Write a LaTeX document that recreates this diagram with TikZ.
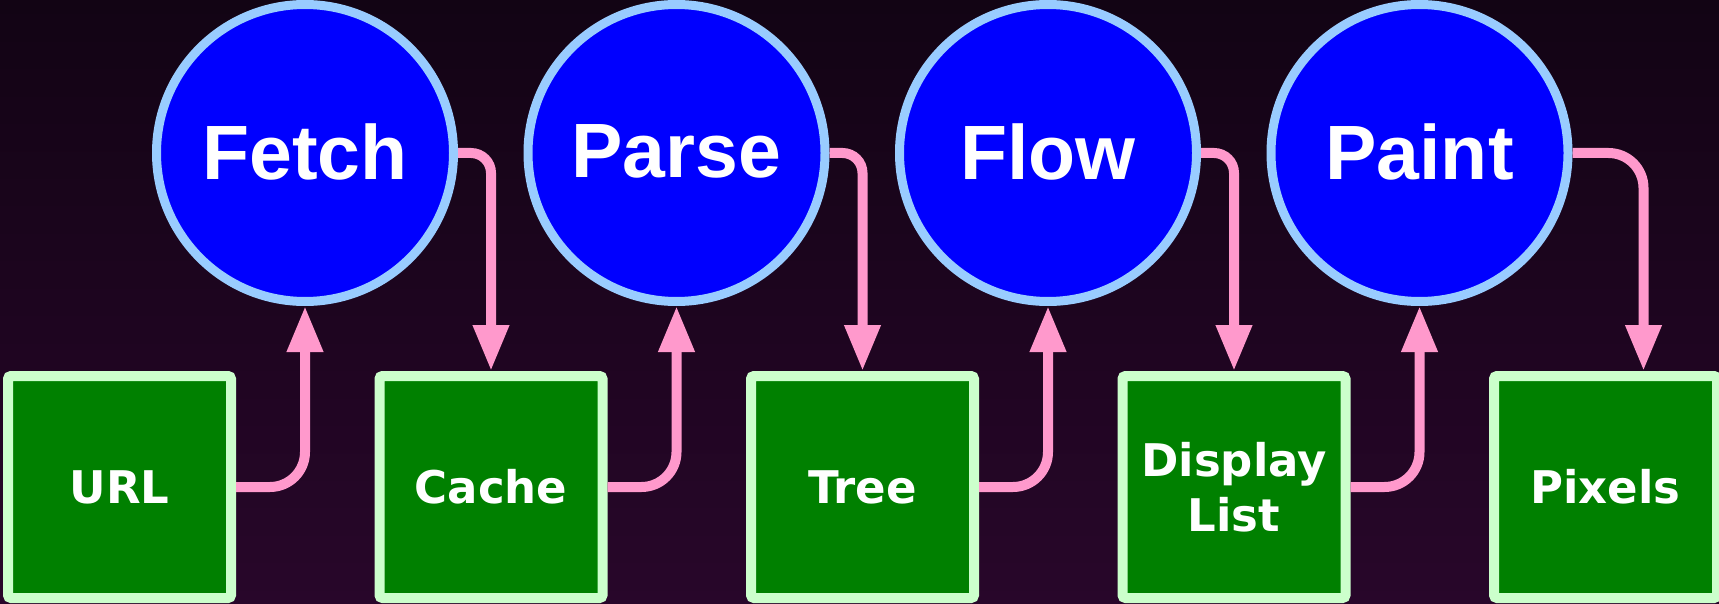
\documentclass[tikz,border=0pt]{standalone}
\usepackage{fontspec}
\newfontfamily\libfont{Liberation Sans}
\newfontfamily\dvfont{DejaVu Sans}
\usetikzlibrary{arrows.meta}
\definecolor{bgtop}{RGB}{18,4,20}
\definecolor{bgbot}{RGB}{40,6,42}
\definecolor{stagefill}{RGB}{0,0,255}
\definecolor{stageline}{RGB}{153,204,255}
\definecolor{datafill}{RGB}{0,128,0}
\definecolor{dataline}{RGB}{204,255,204}
\definecolor{flowpink}{RGB}{255,153,204}
\tikzset{
  stage/.style={circle, draw=stageline, fill=stagefill, line width=9pt,
    minimum size=297pt, inner sep=0pt, text=white,
    font=\libfont\bfseries\fontsize{77}{90}\selectfont},
  databox/.style={rectangle, rounded corners=3pt, draw=dataline, fill=datafill,
    line width=10pt, minimum width=223pt, minimum height=222pt, inner sep=0pt,
    text=white, align=center,
    font=\dvfont\bfseries\fontsize{45}{55}\selectfont},
  upflow/.style={draw=flowpink, line width=10pt, rounded corners=35pt,
    -{Triangle[length=46pt,width=34pt]}},
  downflow/.style={draw=flowpink, line width=10pt, rounded corners=20pt,
    -{Triangle[length=46pt,width=34pt]}}
}
\begin{document}
\begin{tikzpicture}[x=1pt,y=-1pt]
\useasboundingbox (0,0) rectangle (1719,604);
\shade[top color=bgtop, bottom color=bgbot] (0,0) rectangle (1719,604);

\node[stage] (fetch) at (305,153) {\raisebox{3pt}{Fetch}};
\node[stage] (parse) at (676.5,153) {\raisebox{3pt}{Parse}};
\node[stage] (flow) at (1048,153) {\raisebox{3pt}{Flow}};
\node[stage] (paint) at (1419.5,153) {\raisebox{3pt}{Paint}};

\node[databox] (url) at (119.5,487) {URL};
\node[databox] (cache) at (491,487) {Cache};
\node[databox] (tree) at (862.5,487) {Tree};
\node[databox] (dlist) at (1234,487) {Display\\List};
\node[databox] (pixels) at (1605.5,487) {Pixels};

\coordinate (pixin) at ([xshift=38pt]pixels.north);

\draw[upflow] (url.east) -| (fetch.south);
\draw[upflow] (cache.east) -| (parse.south);
\draw[upflow] (tree.east) -| (flow.south);
\draw[upflow] (dlist.east) -| (paint.south);

\draw[downflow] (fetch.east) -| (cache.north);
\draw[downflow] (parse.east) -| (tree.north);
\draw[downflow] (flow.east) -| (dlist.north);
\draw[upflow] (paint.east) -| (pixin);
\end{tikzpicture}
\end{document}
